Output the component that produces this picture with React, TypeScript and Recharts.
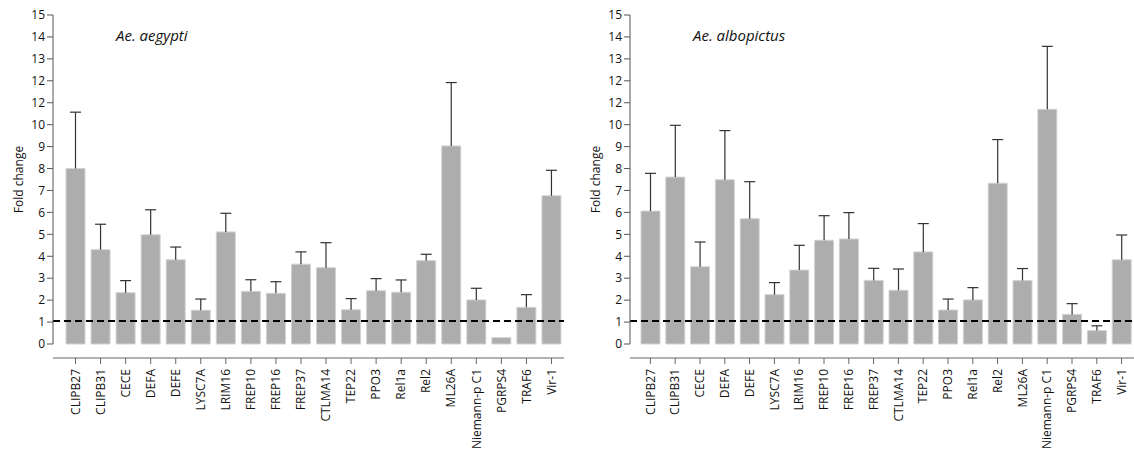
import { BarChart, Bar, XAxis, YAxis, ReferenceLine } from "recharts";

// Genes on the x axis (same order in both panels)
const genes = [
  "CLIPB27", "CLIPB31", "CECE", "DEFA", "DEFE", "LYSC7A", "LRIM16", "FREP10", "FREP16", "FREP37",
  "CTLMA14", "TEP22", "PPO3", "Rel1a", "Rel2", "ML26A", "Niemann-p C1", "PGRPS4", "TRAF6", "Vir-1",
];

// Ae. aegypti: mean fold change and upper error
const aegyptiMean = [8.0, 4.3, 2.34, 4.98, 3.84, 1.54, 5.11, 2.4, 2.31, 3.64, 3.48, 1.56, 2.43, 2.36, 3.8, 9.03, 2.01, 0.29, 1.67, 6.76];
const aegyptiErr = [2.57, 1.16, 0.55, 1.14, 0.58, 0.51, 0.85, 0.53, 0.53, 0.56, 1.14, 0.51, 0.55, 0.56, 0.29, 2.89, 0.53, 0, 0.58, 1.16];

// Ae. albopictus: mean fold change and upper error
const albopictusMean = [6.06, 7.61, 3.52, 7.49, 5.71, 2.25, 3.37, 4.73, 4.79, 2.9, 2.45, 4.2, 1.55, 2.01, 7.33, 2.89, 10.7, 1.35, 0.61, 3.84];
const albopictusErr = [1.72, 2.36, 1.13, 2.24, 1.69, 0.55, 1.13, 1.12, 1.2, 0.55, 0.97, 1.29, 0.5, 0.56, 1.99, 0.55, 2.87, 0.49, 0.22, 1.13];

// y tick labels as printed in the figure (yes, "12" appears twice)
const yTicks = [0, 1, 2, 3, 4, 5, 6, 7, 8, 9, 10, 11, 12, 13, 14, 15];
const yTickLabels = ["0", "1", "2", "3", "4", "5", "6", "7", "8", "9", "10", "12", "12", "13", "14", "15"];

const cutoff = 1.05;

const FONT = "'Open Sans', 'DejaVu Sans', sans-serif";
const BAR_FILL = "#adadad";

const ErrorShape = (props: any) => {
  const { x, y, width, height } = props;
  if (!height || height < 0.5) return <g />;
  const cx = x + width / 2;
  return (
    <g>
      <line x1={cx} y1={y + height} x2={cx} y2={y} stroke="#333" strokeWidth={1.2} />
      <line x1={cx - 5.5} y1={y} x2={cx + 5.5} y2={y} stroke="#333" strokeWidth={1.2} />
    </g>
  );
};

const GeneTick = ({ x, y, payload }: any) => (
  <g transform={`translate(${x},${y})`}>
    <text
      transform="rotate(-90)"
      x={-3}
      dy="0.35em"
      textAnchor="end"
      fill="#111"
      fontSize={12}
      fontFamily={FONT}
    >
      {payload.value}
    </text>
  </g>
);

const foldLabel = (p: any) => {
  const vb = p?.viewBox ?? { x: 0, y: 15, width: 53, height: 329 };
  const cx = vb.x + 18;
  const cy = vb.y + vb.height / 2;
  return (
    <text
      x={cx}
      y={cy}
      transform={`rotate(-90 ${cx} ${cy})`}
      textAnchor="middle"
      dominantBaseline="central"
      fontSize={12}
      fontFamily={FONT}
      fill="#111"
    >
      Fold change
    </text>
  );
};

type PanelProps = {
  mean: number[];
  err: number[];
  width: number;
  padLeft: number;
};

const Panel = ({ mean, err, width, padLeft }: PanelProps) => {
  const data = genes.map((g, i) => ({ gene: g, mean: mean[i], err: err[i] }));
  return (
    <BarChart
      width={width}
      height={455}
      data={data}
      margin={{ top: 15, right: 0, bottom: 0, left: 0 }}
      barSize={19}
    >
      {/* empty axis that only makes the gap between 0 and the x axis line */}
      <XAxis xAxisId={0} dataKey="gene" height={14} tick={false} axisLine={false} tickLine={false} padding={{ left: padLeft, right: 0 }} />
      <XAxis
        xAxisId="labels"
        dataKey="gene"
        height={97}
        interval={0}
        padding={{ left: padLeft, right: 0 }}
        stroke="#666"
        tickSize={6}
        tick={<GeneTick />}
      />
      <YAxis
        width={53}
        domain={[0, 15]}
        ticks={yTicks}
        interval={0}
        stroke="#555"
        tickSize={6}
        tick={{ fontSize: 12, fontFamily: FONT, fill: "#111" }}
        tickFormatter={(v: number) => yTickLabels[yTicks.indexOf(v)] ?? String(v)}
        label={foldLabel}
      />
      <Bar dataKey="mean" stackId="s" fill={BAR_FILL} stroke="#d2d2d2" strokeWidth={1} isAnimationActive={false} />
      <Bar dataKey="err" stackId="s" shape={<ErrorShape />} isAnimationActive={false} />
      <ReferenceLine y={cutoff} stroke="#000" strokeWidth={2} strokeDasharray="7 4" />
    </BarChart>
  );
};

const titleStyle = (left: number): React.CSSProperties => ({
  position: "absolute",
  left,
  top: 28,
  fontFamily: FONT,
  fontStyle: "italic",
  fontSize: 15,
  lineHeight: 1,
  color: "#111",
});

export default function App() {
  return (
    <div style={{ position: "absolute", left: 0, top: 0, width: 1134, height: 455, background: "#fff" }}>
      <div style={{ position: "absolute", left: 0, top: 0 }}>
        <Panel mean={aegyptiMean} err={aegyptiErr} width={564} padLeft={10} />
      </div>
      <div style={{ position: "absolute", left: 577, top: 0 }}>
        <Panel mean={albopictusMean} err={albopictusErr} width={557} padLeft={8} />
      </div>
      <div style={titleStyle(116)}>Ae. aegypti</div>
      <div style={titleStyle(693)}>Ae. albopictus</div>
    </div>
  );
}
